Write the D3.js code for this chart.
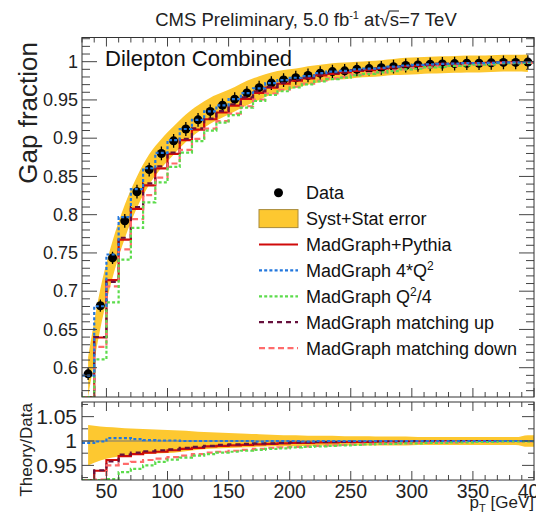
<!DOCTYPE html>
<html>
<head>
<meta charset="utf-8">
<script src="https://cdn.jsdelivr.net/npm/d3@7/dist/d3.min.js"></script>
<style>
  html, body { margin: 0; padding: 0; background: #fff; }
  svg { display: block; font-family: "Liberation Sans", Arial, Helvetica, sans-serif; }
</style>
</head>
<body>
<svg id="chart" width="536" height="517"></svg>
<script>
// Bin centres of the leading-jet pT threshold (GeV), 10 GeV wide bins
const ptBins = [35,45,55,65,75,85,95,105,115,125,135,145,155,165,175,185,195,205,215,225,235,245,255,265,275,285,295,305,315,325,335,345,355,365,375,385,395];
const binWidth = 10;

// Measured gap fraction and its statistical error
const gapData = [0.592,0.681,0.7435,0.792,0.830,0.859,0.880,0.8965,0.912,0.924,0.935,0.943,0.951,0.959,0.966,0.972,0.976,0.979,0.982,0.985,0.987,0.988,0.990,0.991,0.992,0.9935,0.995,0.9957,0.9966,0.997,0.9975,0.998,0.998,0.9985,0.999,0.999,0.9995];
const gapStatErr = [0.008,0.008,0.008,0.009,0.009,0.009,0.009,0.009,0.009,0.009,0.009,0.009,0.009,0.009,0.009,0.009,0.009,0.009,0.009,0.009,0.009,0.009,0.009,0.009,0.009,0.009,0.009,0.009,0.009,0.009,0.009,0.009,0.009,0.009,0.009,0.009,0.009];

// Syst+Stat band on the gap fraction (absolute, up / down)
const bandUp = [0.022,0.022,0.022,0.021,0.020,0.020,0.019,0.019,0.019,0.019,0.018,0.017,0.016,0.016,0.015,0.014,0.013,0.012,0.012,0.011,0.011,0.011,0.010,0.010,0.010,0.010,0.010,0.010,0.010,0.010,0.010,0.010,0.010,0.010,0.010,0.010,0.010];
const bandDn = [0.035,0.030,0.026,0.023,0.021,0.020,0.019,0.018,0.017,0.016,0.016,0.016,0.016,0.016,0.016,0.015,0.014,0.013,0.012,0.012,0.011,0.011,0.011,0.011,0.011,0.011,0.012,0.012,0.012,0.012,0.012,0.012,0.012,0.012,0.012,0.012,0.013];

// Relative uncertainty band for the Theory/Data panel (up / down)
const ratioBandUp = [0.033,0.030,0.028,0.026,0.025,0.024,0.023,0.022,0.021,0.019,0.018,0.017,0.016,0.015,0.014,0.013,0.012,0.012,0.011,0.011,0.011,0.010,0.010,0.010,0.009,0.009,0.009,0.008,0.008,0.008,0.008,0.008,0.008,0.008,0.008,0.008,0.012];
const ratioBandDn = [0.050,0.040,0.034,0.030,0.028,0.026,0.025,0.024,0.021,0.018,0.016,0.015,0.014,0.013,0.012,0.011,0.011,0.010,0.010,0.009,0.009,0.009,0.009,0.009,0.009,0.009,0.009,0.008,0.008,0.008,0.008,0.008,0.008,0.008,0.008,0.008,0.012];

// Theory/Data ratios for each simulation
const ratioNominal = [0.918,0.939,0.961,0.969,0.973,0.976,0.978,0.981,0.984,0.986,0.989,0.990,0.991,0.992,0.993,0.994,0.995,0.996,0.996,0.997,0.997,0.998,0.998,0.998,0.999,0.999,0.999,0.999,0.999,1.000,0.999,1.000,1.000,1.000,1.000,1.000,1.000];
const ratioQ2Up = [0.996,0.999,1.006,1.006,1.004,1.002,1.001,1.001,1.000,1.000,1.000,1.000,1.000,1.000,0.999,1.000,1.000,1.000,0.999,1.000,1.000,1.000,1.000,1.000,1.000,1.000,1.000,1.000,1.000,1.000,1.000,1.000,1.000,1.000,1.000,1.000,1.000];
const ratioQ2Down = [0.880,0.897,0.922,0.936,0.943,0.950,0.957,0.962,0.966,0.970,0.973,0.976,0.978,0.980,0.982,0.984,0.985,0.987,0.988,0.989,0.990,0.991,0.992,0.993,0.994,0.994,0.995,0.995,0.996,0.996,0.997,0.997,0.998,0.998,0.999,0.999,0.999];
const ratioMatchUp = [0.916,0.940,0.958,0.972,0.976,0.979,0.981,0.983,0.986,0.988,0.990,0.992,0.993,0.994,0.995,0.995,0.996,0.997,0.997,0.998,0.998,0.998,0.999,0.999,0.999,0.999,0.999,1.000,1.000,1.000,1.000,1.000,1.000,1.000,1.000,1.000,1.000];
const ratioMatchDown = [0.890,0.921,0.950,0.953,0.957,0.961,0.964,0.967,0.970,0.973,0.976,0.978,0.980,0.982,0.984,0.986,0.987,0.988,0.989,0.990,0.991,0.992,0.993,0.994,0.994,0.995,0.995,0.996,0.996,0.997,0.997,0.998,0.998,0.998,0.999,0.999,0.999];

// Axis ticks and labels
const xMajorTicks = [50,100,150,200,250,300,350,400];
const yMainTicks = [0.6,0.65,0.7,0.75,0.8,0.85,0.9,0.95,1];
const yRatioTicks = [0.95,1,1.05];
const yRatioMinor = [0.925,0.975,1.025,1.075];

const legendLabels = ["Data","Syst+Stat error","MadGraph+Pythia","MadGraph 4*Q\u00b2","MadGraph Q\u00b2/4","MadGraph matching up","MadGraph matching down"];

const colors = {
  band: "#fdc830",
  nominal: "#d00a0a",
  q2up: "#2277dd",
  q2down: "#5cdc4c",
  matchUp: "#66103c",
  matchDown: "#ff6b6b"
};

const series = [
  {key:"nominal",  ratio: ratioNominal,   color: colors.nominal,   dash: null},
  {key:"matchUp",  ratio: ratioMatchUp,   color: colors.matchUp,   dash: "5,4"},
  {key:"matchDown",ratio: ratioMatchDown, color: colors.matchDown, dash: "6,3.5"},
  {key:"q2down",   ratio: ratioQ2Down,    color: colors.q2down,    dash: "3,2.2"},
  {key:"q2up",     ratio: ratioQ2Up,      color: colors.q2up,      dash: "3,2.2"}
];

const svg = d3.select("#chart");

// Pad geometry
const L = 82, R = 534;
const mainTop = 37.5, mainBot = 397;
const ratTop = 402, ratBot = 480;

const x = d3.scaleLinear().domain([30, 400]).range([L, R]);
const yMain = d3.scaleLinear().domain([0.5617, 1.0316]).range([mainBot, mainTop]).clamp(true);
const yRat = d3.scaleLinear().domain([0.92, 1.08]).range([ratBot, ratTop]).clamp(true);

const defs = svg.append("defs");
defs.append("clipPath").attr("id","clipMain").append("rect")
  .attr("x", L).attr("y", mainTop).attr("width", R - L).attr("height", mainBot - mainTop);
defs.append("clipPath").attr("id","clipRat").append("rect")
  .attr("x", L).attr("y", ratTop).attr("width", R - L).attr("height", ratBot - ratTop);

const rows = ptBins.map((pt, i) => ({
  pt, lo: pt - binWidth / 2, hi: pt + binWidth / 2,
  data: gapData[i], err: gapStatErr[i],
  up: gapData[i] + bandUp[i], dn: gapData[i] - bandDn[i],
  rUp: 1 + ratioBandUp[i], rDn: 1 - ratioBandDn[i]
}));

// ---------- main pad ----------
const gMain = svg.append("g").attr("clip-path", "url(#clipMain)");

gMain.append("path")
  .datum(rows)
  .attr("fill", colors.band)
  .attr("d", d3.area().curve(d3.curveMonotoneX)
    .x(d => x(d.pt)).y0(d => yMain(d.dn)).y1(d => yMain(d.up)));

// data points with error bars
const pts = gMain.append("g");
pts.selectAll("line").data(rows).join("line")
  .attr("x1", d => x(d.pt)).attr("x2", d => x(d.pt))
  .attr("y1", d => yMain(d.data - d.err)).attr("y2", d => yMain(d.data + d.err))
  .attr("stroke", "#000").attr("stroke-width", 1.3);
pts.selectAll("circle").data(rows).join("circle")
  .attr("cx", d => x(d.pt)).attr("cy", d => yMain(d.data)).attr("r", 4.5)
  .attr("fill", "#000");

function stepPoints(values, transform) {
  const p = rows.map((r, i) => [r.lo, transform(values[i], i)]);
  p.push([rows[rows.length - 1].hi, transform(values[values.length - 1], values.length - 1)]);
  return p;
}

series.forEach(s => {
  const prediction = stepPoints(s.ratio, (v, i) => v * gapData[i]);
  gMain.append("path")
    .datum(prediction)
    .attr("fill", "none")
    .attr("stroke", s.color)
    .attr("stroke-width", 2.2)
    .attr("stroke-dasharray", s.dash)
    .attr("d", d3.line().curve(d3.curveStepAfter).x(d => x(d[0])).y(d => yMain(d[1])));
});

// frame + inward ticks on all four sides of a pad
function drawFrame(top, bot, yScale, yMajor, yMinor, yMajorLen, yMinorLen, xMajorLen, xMinorLen) {
  const g = svg.append("g").attr("class", "frame");
  const tickColor = "#444";
  const xMinor = d3.range(30, 401, 10).filter(v => !xMajorTicks.includes(v));
  [[bot, -1], [top, 1]].forEach(([yy, dir]) => {
    xMajorTicks.forEach(v => g.append("line")
      .attr("x1", x(v)).attr("x2", x(v)).attr("y1", yy).attr("y2", yy + dir * xMajorLen)
      .attr("stroke", tickColor).attr("stroke-width", 1));
    xMinor.forEach(v => g.append("line")
      .attr("x1", x(v)).attr("x2", x(v)).attr("y1", yy).attr("y2", yy + dir * xMinorLen)
      .attr("stroke", tickColor).attr("stroke-width", 1));
  });
  [[L, 1], [R, -1]].forEach(([xx, dir]) => {
    yMajor.forEach(v => g.append("line")
      .attr("x1", xx).attr("x2", xx + dir * yMajorLen).attr("y1", yScale(v)).attr("y2", yScale(v))
      .attr("stroke", tickColor).attr("stroke-width", 1));
    yMinor.forEach(v => g.append("line")
      .attr("x1", xx).attr("x2", xx + dir * yMinorLen).attr("y1", yScale(v)).attr("y2", yScale(v))
      .attr("stroke", tickColor).attr("stroke-width", 1));
  });
  g.append("rect").attr("x", L).attr("y", top).attr("width", R - L).attr("height", bot - top)
    .attr("fill", "none").attr("stroke", "#333").attr("stroke-width", 1);
}

const yMainMinor = d3.range(57, 104).map(v => v / 100).filter(v => !yMainTicks.some(t => Math.abs(t - v) < 1e-6));
drawFrame(mainTop, mainBot, yMain, yMainTicks, yMainMinor, 15, 8, 9, 5);

// y labels main
svg.append("g").selectAll("text").data(yMainTicks).join("text")
  .attr("x", 78).attr("y", d => yMain(d)).attr("dy", "0.35em")
  .attr("text-anchor", "end").style("font-size", "18px").attr("fill", "#222")
  .text(d => d3.format("~g")(d));

// y title main
svg.append("text")
  .attr("transform", "translate(37,42) rotate(-90)")
  .attr("text-anchor", "end").style("font-size", "26px").attr("fill", "#222")
  .text("Gap fraction");

// channel label
svg.append("text").attr("x", 105).attr("y", 66)
  .style("font-size", "22px").attr("fill", "#111").text("Dilepton Combined");

// ---------- ratio pad ----------
const gRat = svg.append("g").attr("clip-path", "url(#clipRat)");
const ratioBandRows = rows.concat([{...rows[rows.length - 1], pt: 400}]);
gRat.append("path")
  .datum(ratioBandRows)
  .attr("fill", colors.band)
  .attr("d", d3.area().curve(d3.curveMonotoneX)
    .x(d => x(d.pt)).y0(d => yRat(d.rDn)).y1(d => yRat(d.rUp)));

gRat.append("line")
  .attr("x1", L).attr("x2", R).attr("y1", yRat(1)).attr("y2", yRat(1))
  .attr("stroke", "#777").attr("stroke-width", 1.2);

series.forEach(s => {
  const r = stepPoints(s.ratio, v => v);
  gRat.append("path")
    .datum(r)
    .attr("fill", "none")
    .attr("stroke", s.color)
    .attr("stroke-width", 2.2)
    .attr("stroke-dasharray", s.dash)
    .attr("d", d3.line().curve(d3.curveStepAfter).x(d => x(d[0])).y(d => yRat(d[1])));
});

drawFrame(ratTop, ratBot, yRat, yRatioTicks, yRatioMinor, 12, 6, 9, 5);

svg.append("g").selectAll("text").data(yRatioTicks).join("text")
  .attr("x", 77).attr("y", d => yRat(d)).attr("dy", "0.35em")
  .attr("text-anchor", "end").style("font-size", "21px").attr("fill", "#222")
  .text(d => d3.format("~g")(d));

svg.append("g").selectAll("text").data(xMajorTicks).join("text")
  .attr("x", d => x(d)).attr("y", 497.5)
  .attr("text-anchor", "middle").style("font-size", "19.5px").attr("fill", "#222")
  .text(d => d);

svg.append("text")
  .attr("transform", "translate(32,403) rotate(-90)")
  .attr("text-anchor", "end").style("font-size", "17px").attr("fill", "#222")
  .text("Theory/Data");

// x title
const xt = svg.append("text").attr("x", R).attr("y", 508)
  .attr("text-anchor", "end").style("font-size", "17px").attr("fill", "#222");
xt.append("tspan").text("p");
xt.append("tspan").attr("dy", 4).style("font-size", "11px").text("T");
xt.append("tspan").attr("dy", -4).text(" [GeV]");

// ---------- title ----------
const title = svg.append("text").attr("x", 306).attr("y", 26)
  .attr("text-anchor", "middle").style("font-size", "18.5px").attr("fill", "#222");
title.append("tspan").text("CMS Preliminary, 5.0 fb");
title.append("tspan").attr("dy", -7).style("font-size", "11px").text("-1");
title.append("tspan").attr("dy", 7).text(" at");
title.append("tspan").text("\u221a");
title.append("tspan").text("s=7 TeV");
{
  const node = title.node();
  const full = node.textContent;
  const iRoot = full.indexOf("\u221a");
  const rootBox = node.getExtentOfChar(iRoot);
  const sBox = node.getExtentOfChar(iRoot + 1);
  svg.append("line")
    .attr("x1", rootBox.x + rootBox.width - 1).attr("x2", sBox.x + sBox.width)
    .attr("y1", rootBox.y + 2).attr("y2", rootBox.y + 2)
    .attr("stroke", "#222").attr("stroke-width", 1.1);
}

// ---------- legend ----------
const legX0 = 259, legX1 = 298, legTextX = 306, legY0 = 192.7, legStep = 25.9;
const leg = svg.append("g");
const legendMarks = [
  {type: "dot"},
  {type: "box"},
  {type: "line", color: colors.nominal, dash: null},
  {type: "line", color: colors.q2up, dash: "3,2.2"},
  {type: "line", color: colors.q2down, dash: "3,2.2"},
  {type: "line", color: colors.matchUp, dash: "5,4"},
  {type: "line", color: colors.matchDown, dash: "6,3.5"}
];
legendMarks.forEach((m, i) => {
  const yy = legY0 + i * legStep;
  if (m.type === "dot") {
    leg.append("circle").attr("cx", (legX0 + legX1) / 2).attr("cy", yy).attr("r", 4.5).attr("fill", "#000");
  } else if (m.type === "box") {
    leg.append("rect").attr("x", legX0).attr("y", yy - 9).attr("width", legX1 - legX0).attr("height", 18)
      .attr("fill", colors.band).attr("stroke", "#a88a3a").attr("stroke-width", 1);
  } else {
    leg.append("line").attr("x1", legX0).attr("x2", legX1).attr("y1", yy).attr("y2", yy)
      .attr("stroke", m.color).attr("stroke-width", 2.2).attr("stroke-dasharray", m.dash);
  }
  const t = leg.append("text").attr("x", legTextX).attr("y", yy + 6.5)
    .style("font-size", "18px").attr("fill", "#111");
  const lab = legendLabels[i];
  const sup = lab.indexOf("\u00b2");
  if (sup < 0) {
    t.text(lab);
  } else {
    t.append("tspan").text(lab.slice(0, sup));
    t.append("tspan").attr("dy", -7).style("font-size", "12px").text("2");
    t.append("tspan").attr("dy", 7).text(lab.slice(sup + 1));
  }
});
</script>
</body>
</html>
